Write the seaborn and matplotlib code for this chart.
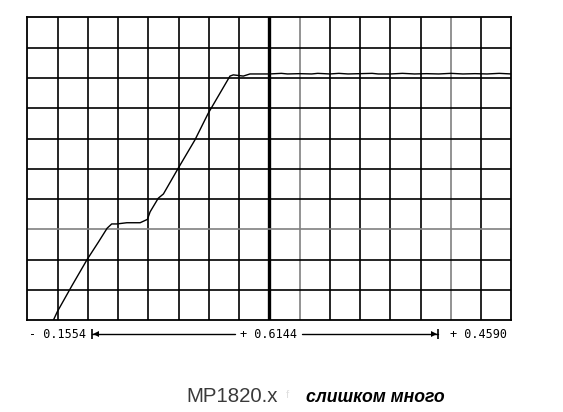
import matplotlib
matplotlib.use("Agg")
import matplotlib.pyplot as plt
from matplotlib.lines import Line2D
import seaborn as sns
import pandas as pd

# Trace, in grid divisions (16 x 10 graticule)
trace_x = [0.86, 0.99, 1.48, 1.98, 2.35, 2.64, 2.79, 2.96, 3.29, 3.55, 3.73, 3.97, 4.06,
           4.33, 4.50, 4.99, 5.54, 5.98, 6.70, 6.81, 7.14, 7.36, 7.60, 8.00, 8.40, 8.60,
           9.00, 9.40, 9.60, 10.00, 10.30, 10.60, 11.00, 11.40, 11.60, 12.00, 12.40,
           12.80, 13.20, 13.60, 14.00, 14.40, 14.80, 15.20, 15.60, 16.00]
trace_y = [0.00, 0.28, 1.15, 2.01, 2.58, 3.04, 3.18, 3.18, 3.22, 3.22, 3.22, 3.33, 3.58,
           4.03, 4.17, 5.02, 5.95, 6.83, 8.06, 8.10, 8.06, 8.13, 8.13, 8.13, 8.15, 8.13,
           8.14, 8.13, 8.15, 8.13, 8.15, 8.13, 8.14, 8.15, 8.13, 8.13, 8.15, 8.13, 8.14,
           8.13, 8.15, 8.13, 8.14, 8.13, 8.15, 8.13]

left_label = "- 0.1554"
mid_label = "+ 0.6144"
right_label = "+ 0.4590"
caption_left = "MP1820.x"
caption_right = "слишком много"

sns.set_theme(style="white")
plt.rcParams['font.family'] = ['DejaVu Sans']

W, H = 563, 412
fig = plt.figure(figsize=(W / 100, H / 100), dpi=100)
ax = fig.add_axes([27.3 / W, 1 - 320.3 / H, 484 / W, 303 / H])

df = pd.DataFrame({"x": trace_x, "y": trace_y})

# graticule
for i in range(1, 16):
    if i == 8:
        ax.axvline(i, color="black", lw=2.4, zorder=1)
    elif i in (9, 14):
        ax.axvline(i, color="#808080", lw=1.2, zorder=1)
    else:
        ax.axvline(i, color="black", lw=1.2, zorder=1)
for j in range(1, 10):
    col = "#808080" if j == 3 else "black"
    ax.axhline(j, color=col, lw=1.2, zorder=1)

sns.lineplot(data=df, x="x", y="y", ax=ax, color="black", lw=1.0, zorder=3)

ax.set_xlim(0, 16)
ax.set_ylim(0, 10)
ax.set_xticks([])
ax.set_yticks([])
ax.set_xlabel("")
ax.set_ylabel("")
for s in ax.spines.values():
    s.set_color("black")
    s.set_linewidth(1.3)

def fx(px):
    return px / W

def fy(py):
    return 1 - py / H

ty = 334
mono = dict(family="DejaVu Sans Mono", fontsize=8.5, va="center", color="black")
fig.text(fx(29), fy(ty), left_label, ha="left", **mono)
fig.text(fx(269), fy(ty), mid_label, ha="center", **mono)
fig.text(fx(507), fy(ty), right_label, ha="right", **mono)

# span arrows
fig.add_artist(Line2D([fx(92), fx(235)], [fy(ty), fy(ty)], color="black", lw=1.0))
fig.add_artist(Line2D([fx(302), fx(438)], [fy(ty), fy(ty)], color="black", lw=1.0))
fig.add_artist(Line2D([fx(92)], [fy(ty)], marker="|", ms=7, mew=1.2, color="black"))
fig.add_artist(Line2D([fx(96)], [fy(ty)], marker="<", ms=4, color="black", mew=0))
fig.add_artist(Line2D([fx(438)], [fy(ty)], marker="|", ms=7, mew=1.2, color="black"))
fig.add_artist(Line2D([fx(434)], [fy(ty)], marker=">", ms=4, color="black", mew=0))

fig.text(fx(186), fy(402), caption_left, ha="left", va="baseline",
         family="Liberation Sans", fontsize=14.7, color="#3a3a3a")
fig.text(fx(286), fy(398), "f", ha="left", va="baseline",
         family="Liberation Sans", fontsize=8, color="#e0e0e0")
fig.text(fx(306), fy(402), caption_right, ha="left", va="baseline",
         family="Liberation Sans", fontsize=12.7, fontweight="bold",
         fontstyle="italic", color="black")

fig.savefig("out.png", dpi=100, facecolor="white")
